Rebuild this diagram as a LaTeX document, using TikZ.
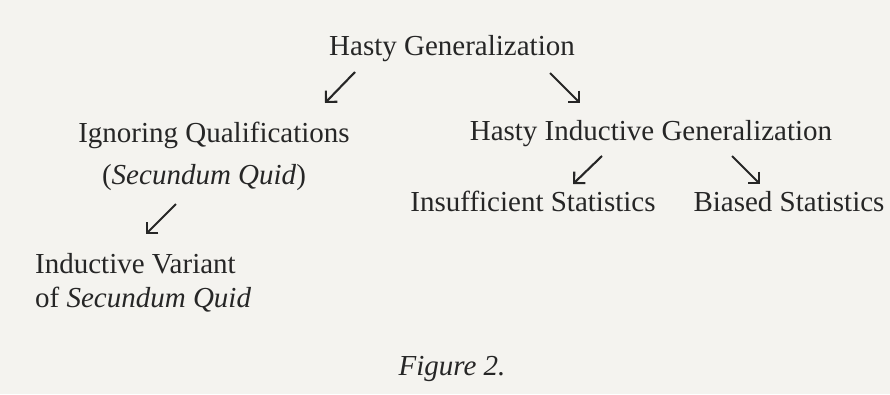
\documentclass[tikz,border=0pt]{standalone}
\usepackage{fontspec}
\setmainfont{Liberation Serif}
\usetikzlibrary{arrows.meta}
\definecolor{paper}{HTML}{F4F3EF}
\definecolor{ink}{HTML}{262626}
\begin{document}
\begin{tikzpicture}[x=1pt,y=-1pt,
  lbl/.style={inner sep=0pt,text=ink,font=\fontsize{29}{34}\selectfont,anchor=base},
  lblw/.style={lbl,anchor=base west},
  arr/.style={draw=ink,line width=2.1pt,-{Straight Barb[length=8pt,width=16pt,line width=2.1pt]}}]
\fill[paper] (0,0) rectangle (890,394);
\useasboundingbox (0,0) rectangle (890,394);
\node[lbl] (hg) at (452,55) {Hasty Generalization};
\node[lbl] (iq) at (214,142) {Ignoring Qualifications};
\node[lbl] (sq) at (204,184) {(\textit{Secundum Quid})};
\node[lbl] (hig) at (651,140) {Hasty Inductive Generalization};
\node[lbl] (is) at (533,211) {Insufficient Statistics};
\node[lbl] (bs) at (789,211) {Biased Statistics};
\node[lblw] (iv) at (35,273) {Inductive Variant};
\node[lblw] (osq) at (35,307) {of \textit{Secundum Quid}};
\node[lbl] (fig) at (452,375) {\textit{Figure 2.}};
\coordinate (a1s) at (355,72); \coordinate (a1e) at (325,103);
\coordinate (a2s) at (550,73); \coordinate (a2e) at (580,103);
\coordinate (a3s) at (176,204); \coordinate (a3e) at (146,234);
\coordinate (a4s) at (602,156); \coordinate (a4e) at (573,184);
\coordinate (a5s) at (732,156); \coordinate (a5e) at (760,184);
\draw[arr] (a1s) -- (a1e);
\draw[arr] (a2s) -- (a2e);
\draw[arr] (a3s) -- (a3e);
\draw[arr] (a4s) -- (a4e);
\draw[arr] (a5s) -- (a5e);
\end{tikzpicture}
\end{document}
